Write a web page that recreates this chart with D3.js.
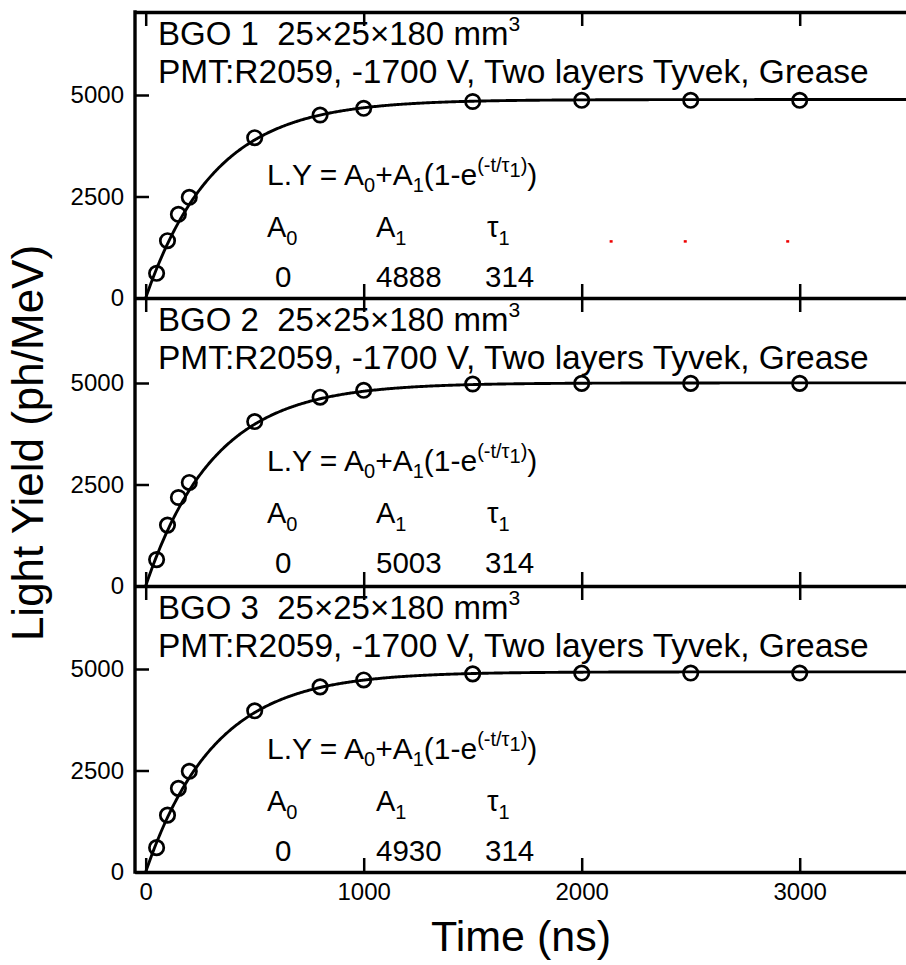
<!DOCTYPE html>
<html>
<head>
<meta charset="utf-8">
<script src="https://cdn.jsdelivr.net/npm/d3@7"></script>
<style>
  body { margin: 0; background: #fff; }
  svg { display: block; font-family: Arial, "Liberation Sans", sans-serif; }
  .axis path, .axis line { stroke: #000; }
  .axis text { font-family: Arial, "Liberation Sans", sans-serif; fill: #000; }
</style>
</head>
<body>
<svg width="906" height="965"></svg>
<script>
// measured times (ns) and light yield (ph/MeV) for the three crystals
var times = [50, 100, 150, 200, 500, 800, 1000, 1500, 2000, 2500, 3000];
var bgo1 = [608, 1411, 2061, 2480, 3948, 4507, 4672, 4840, 4870, 4870, 4870];
var bgo2 = [650, 1500, 2180, 2550, 4050, 4650, 4820, 4975, 4990, 4990, 4990];
var bgo3 = [600, 1400, 2060, 2480, 3970, 4560, 4730, 4880, 4900, 4900, 4900];

var crystals = ["BGO 1", "BGO 2", "BGO 3"];
var fitA0 = [0, 0, 0];
var fitA1 = [4888, 5003, 4930];
var fitTau = [314, 314, 314];

var xTicks = [0, 1000, 2000, 3000];
var yTicks = [0, 2500, 5000];

// stray red specks in the first panel of the scan
var speckTimes = [2135, 2475, 2945];
var speckValue = 1400;

var svg = d3.select("svg"),
    width = +svg.attr("width");

var panelZero = [298, 586, 872],
    panelTop = [12, 298, 586];

var x = d3.scaleLinear().domain([-50, 3500]).range([134.8, 908.7]);

var series = [bgo1, bgo2, bgo3];

panelZero.forEach(function(z, i) {
  var y = d3.scaleLinear().domain([0, 5000]).range([z, z - 203]);
  var top = panelTop[i];
  var g = svg.append("g");

  // fit curve
  var fitT = d3.range(0, 3501, 5);
  var line = d3.line()
      .x(function(t) { return x(t); })
      .y(function(t) { return y(fitA0[i] + fitA1[i] * (1 - Math.exp(-t / fitTau[i]))); });
  g.append("path")
      .datum(fitT)
      .attr("fill", "none")
      .attr("stroke", "#000")
      .attr("stroke-width", 2.9)
      .attr("d", line);

  // data points
  g.selectAll(".pt")
    .data(times.map(function(t, k) { return [t, series[i][k]]; }))
    .enter().append("circle")
      .attr("cx", function(d) { return x(d[0]); })
      .attr("cy", function(d) { return y(d[1]); })
      .attr("r", 7.2)
      .attr("fill", "none")
      .attr("stroke", "#000")
      .attr("stroke-width", 2.7);

  // bottom axis of panel (inward ticks)
  var bottom = g.append("g")
      .attr("class", "axis")
      .attr("transform", "translate(0," + z + ")")
      .call(d3.axisBottom(x).tickValues(xTicks).tickSize(-14).tickSizeOuter(0)
        .tickPadding(11).tickFormat(i == 2 ? d3.format("d") : ""));
  bottom.select(".domain").attr("stroke-width", 3.4);
  bottom.selectAll(".tick line").attr("stroke-width", 2.5);
  bottom.selectAll("text").attr("font-size", 24);

  // top axis of panel (inward ticks)
  var topAx = g.append("g")
      .attr("class", "axis")
      .attr("transform", "translate(0," + top + ")")
      .call(d3.axisTop(x).tickValues(xTicks).tickSize(-14).tickSizeOuter(0).tickFormat(""));
  topAx.select(".domain").attr("stroke-width", i == 0 ? 3.4 : 0);
  topAx.selectAll(".tick line").attr("stroke-width", 2.5);

  // left axis
  var left = g.append("g")
      .attr("class", "axis")
      .attr("transform", "translate(135,0)")
      .call(d3.axisLeft(y).tickValues(yTicks).tickSize(-14).tickSizeOuter(0)
        .tickPadding(11).tickFormat(d3.format("d")));
  left.select(".domain").remove();
  left.selectAll(".tick line").attr("stroke-width", 2.5);
  left.selectAll("text").attr("font-size", 24);

  // header
  var h1 = g.append("text")
      .attr("x", 158).attr("y", top + 33)
      .attr("font-size", 33);
  h1.append("tspan").text(crystals[i] + "\u00a0\u00a025\u00d725\u00d7180 mm");
  h1.append("tspan").attr("font-size", 21).attr("dy", -14).text("3");

  g.append("text")
      .attr("x", 158).attr("y", top + 71)
      .attr("font-size", 33.5)
      .text("PMT:R2059, -1700 V, Two layers Tyvek, Grease");

  // formula
  var f = g.append("text")
      .attr("x", 267).attr("y", top + 173)
      .attr("font-size", 30);
  f.append("tspan").text("L.Y = A");
  f.append("tspan").attr("font-size", 20).attr("dy", 7).text("0");
  f.append("tspan").attr("dy", -7).text("+A");
  f.append("tspan").attr("font-size", 20).attr("dy", 7).text("1");
  f.append("tspan").attr("dy", -7).text("(1-e");
  f.append("tspan").attr("font-size", 20).attr("dy", -13).text("(-t/\u03c4");
  f.append("tspan").attr("font-size", 20).attr("dy", 5).text("1");
  f.append("tspan").attr("font-size", 20).attr("dy", -5).text(")");
  f.append("tspan").attr("dy", 13).text(")");

  // parameter labels
  var labs = [["A", "0", 267], ["A", "1", 376], ["\u03c4", "1", 487]];
  labs.forEach(function(l) {
    var t = g.append("text")
        .attr("x", l[2]).attr("y", top + 225)
        .attr("font-size", 29);
    t.append("tspan").text(l[0]);
    t.append("tspan").attr("font-size", 20).attr("dy", 8).text(l[1]);
  });

  var vals = [[fitA0[i], 275], [fitA1[i], 376], [fitTau[i], 485]];
  vals.forEach(function(v) {
    g.append("text")
        .attr("x", v[1]).attr("y", top + 275)
        .attr("font-size", 29.5)
        .text(v[0]);
  });

  if (i == 0) {
    g.selectAll(".speck")
      .data(speckTimes)
      .enter().append("rect")
        .attr("x", function(t) { return x(t) - 1.5; })
        .attr("y", y(speckValue) - 1)
        .attr("width", 3)
        .attr("height", 2.5)
        .attr("fill", "#e00");
  }
});

// left axis line across all panels
svg.append("line")
    .attr("x1", 135).attr("x2", 135)
    .attr("y1", 10.3).attr("y2", 873.7)
    .attr("stroke", "#000")
    .attr("stroke-width", 3.4);

// axis titles
svg.append("text")
    .attr("x", 521).attr("y", 951)
    .attr("text-anchor", "middle")
    .attr("font-size", 43)
    .text("Time (ns)");

svg.append("text")
    .attr("transform", "translate(43,443) rotate(-90)")
    .attr("text-anchor", "middle")
    .attr("font-size", 44)
    .text("Light Yield (ph/MeV)");
</script>
</body>
</html>
